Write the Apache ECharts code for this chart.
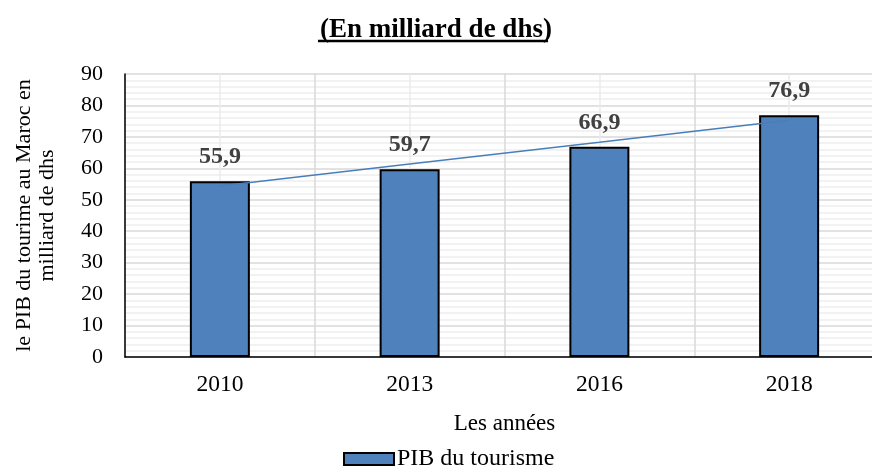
<!DOCTYPE html>
<html>
<head>
<meta charset="utf-8">
<script src="https://cdn.jsdelivr.net/npm/echarts@6/dist/echarts.min.js"></script>
<style>
  html, body { margin: 0; padding: 0; background: #fff; }
  #main { width: 872px; height: 469px; }
</style>
</head>
<body>
<div id="main"></div>
<script>
// donnees
var years = ['2010', '2013', '2016', '2018']
var pibTourisme = [55.9, 59.7, 66.9, 76.9]
// courbe de tendance
var tendance = [54.4, 61.4, 68.3, 75.3]
var yTicks = [0, 90, 10]

var serif = 'Liberation Serif'
var myChart = echarts.init(document.getElementById('main'))

myChart.setOption({
  animation: false,
  title: {
    text: '(En milliard de dhs)',
    left: 'center',
    top: 12,
    textStyle: { fontFamily: serif, fontSize: 27, fontWeight: 'bold', color: '#000' }
  },
  graphic: [
    {
      type: 'line',
      shape: { x1: 318, y1: 41, x2: 548, y2: 41 },
      style: { stroke: '#000', lineWidth: 2.5 }
    }
  ],
  legend: {
    data: [{ name: 'PIB du tourisme', icon: 'rect' }],
    top: 442,
    left: 338,
    padding: 5,
    itemWidth: 50,
    itemHeight: 12,
    textStyle: { fontFamily: serif, fontSize: 24, color: '#000', padding: [0, 0, 0, -2] }
  },
  grid: {
    left: 125,
    top: 74,
    bottom: 112,
    right: -12,
    outerBoundsMode: 'none'
  },
  xAxis: [
    {
      type: 'category',
      data: years,
      name: 'Les années',
      nameLocation: 'middle',
      nameGap: 55,
      nameTextStyle: { fontFamily: serif, fontSize: 23, color: '#000' },
      axisLine: { lineStyle: { color: '#000', width: 1.5 } },
      axisTick: { show: false },
      axisLabel: { fontFamily: serif, fontSize: 23.5, color: '#000', margin: 16 },
      splitLine: { show: false }
    },
    {
      // axe cache pour les lignes de quadrillage verticales
      type: 'value',
      min: 0,
      max: 4,
      interval: 1,
      position: 'top',
      axisLine: { show: false },
      axisTick: { show: false },
      axisLabel: { show: false },
      splitLine: { show: true, lineStyle: { color: '#d9d9d9', width: 1.5 } },
      minorTick: { show: false, splitNumber: 2 },
      minorSplitLine: { show: true, lineStyle: { color: '#ebebeb', width: 1.5 } }
    }
  ],
  yAxis: {
    type: 'value',
    min: yTicks[0],
    max: yTicks[1],
    interval: yTicks[2],
    name: 'le PIB du tourime au Maroc en\nmilliard de dhs',
    nameLocation: 'middle',
    nameRotate: 90,
    nameGap: 66,
    nameTextStyle: { fontFamily: serif, fontSize: 22, color: '#000', lineHeight: 23 },
    axisLine: { show: true, lineStyle: { color: '#000', width: 1.5 } },
    axisTick: { show: false },
    axisLabel: { fontFamily: serif, fontSize: 22, color: '#000', margin: 22 },
    splitLine: { lineStyle: { color: '#d9d9d9', width: 1.5 } },
    minorTick: { show: false, splitNumber: 5 },
    minorSplitLine: { show: true, lineStyle: { color: '#eeeeee', width: 1.5 } }
  },
  series: [
    {
      name: 'PIB du tourisme',
      type: 'bar',
      data: pibTourisme,
      barWidth: 60,
      itemStyle: { color: '#4f81bd', borderColor: '#000', borderWidth: 2 },
      label: {
        show: true,
        position: 'top',
        distance: 12,
        formatter: function (p) { return String(p.value).replace('.', ',') },
        fontFamily: serif,
        fontSize: 24,
        fontWeight: 'bold',
        color: '#404040'
      },
      z: 2
    },
    {
      name: 'Tendance',
      type: 'line',
      data: tendance,
      symbol: 'none',
      lineStyle: { color: '#4a7ebb', width: 1.5 },
      z: 3
    }
  ]
})
</script>
</body>
</html>
